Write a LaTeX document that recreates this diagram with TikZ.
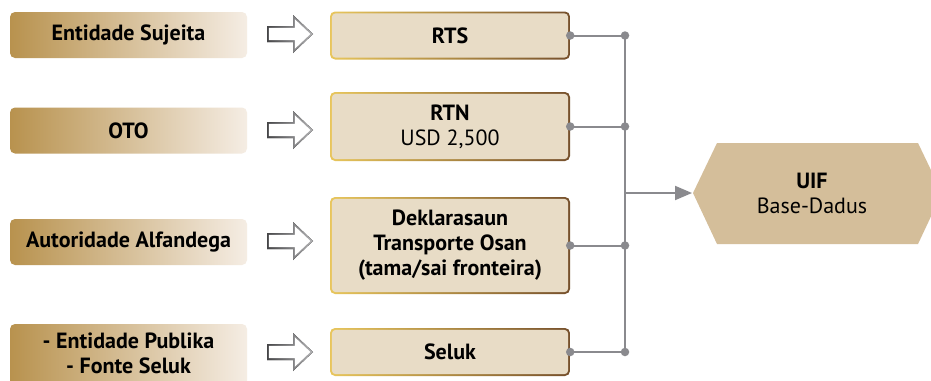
\documentclass[tikz,border=0pt]{standalone}
\usepackage{fontspec}
\setmainfont{PT Sans}
\usetikzlibrary{arrows.meta}
\definecolor{lgold}{RGB}{184,146,78}
\definecolor{lcream}{RGB}{245,237,228}
\definecolor{midfill}{RGB}{232,220,198}
\definecolor{bgold}{RGB}{232,198,92}
\definecolor{bbrown}{RGB}{118,80,44}
\definecolor{hexfill}{RGB}{212,190,154}
\definecolor{conn}{RGB}{138,138,142}
\definecolor{arrdark}{RGB}{70,70,72}
\definecolor{arrlight}{RGB}{178,178,180}
\begin{document}
\begin{tikzpicture}[x=1pt,y=-1pt,
  txt/.style={font=\fontsize{22}{25}\selectfont\bfseries, align=center, text=black},
  srcbox/.style={txt, rounded corners=5pt, minimum width=237pt, inner sep=0pt,
    left color=lgold, right color=lcream},
  outbox/.style={txt, rounded corners=5pt, minimum width=240pt, inner sep=0pt,
    left color=bgold, right color=bbrown,
    path picture={\fill[midfill,rounded corners=4pt]
      ([shift={(1.8pt,-1.8pt)}]path picture bounding box.north west) rectangle
      ([shift={(-1.8pt,1.8pt)}]path picture bounding box.south east);}},
  hollowarr/.pic={
    \fill[left color=arrdark, right color=arrlight]
      (0,-8) -- (26,-8) -- (26,-19) -- (46,0) -- (26,19) -- (26,8) -- (0,8) -- cycle;
    \fill[white]
      (1.8,-6.2) -- (27.8,-6.2) -- (27.8,-14.8) -- (43.4,0) -- (27.8,14.8) -- (27.8,6.2) -- (1.8,6.2) -- cycle;
  },
  connline/.style={draw=conn, line width=2pt},
  dot/.style={circle, fill=conn, inner sep=0pt, minimum size=8.5pt}
]
\clip (0,0) rectangle (931,380);
\fill[white] (0,0) rectangle (931,380);

% source boxes
\node[srcbox, minimum height=46pt] (s1) at (128.5,35) {Entidade Sujeita};
\node[srcbox, minimum height=46pt] (s2) at (128.5,130.5) {OTO};
\node[srcbox, minimum height=46pt] (s3) at (128.5,242) {Autoridade Alfandega};
\node[srcbox, minimum height=64pt] (s4) at (128.5,356) {};
\node[txt] (s4t) at (128.5,353.5) {- Entidade Publika\\- Fonte Seluk};

% hollow arrows
\pic at (267,34) {hollowarr};
\pic at (267,130) {hollowarr};
\pic at (267,241) {hollowarr};
\pic at (267,352) {hollowarr};

% output boxes
\node[outbox, minimum height=48pt] (o1) at (450,35.5) {RTS};
\node[outbox, minimum height=69pt] (o2) at (450,126.5) {RTN\\\mdseries USD 2,500};
\node[outbox, minimum height=97pt] (o3) at (450,245.5) {Deklarasaun\\Transporte Osan\\(tama/sai fronteira)};
\node[outbox, minimum height=48pt] (o4) at (450,352) {Seluk};

% junctions
\coordinate (j1) at (625,35.5);
\coordinate (j2) at (625,126.5);
\coordinate (j3) at (625,245.5);
\coordinate (j4) at (625,352);
\coordinate (jm) at (625,193);
\coordinate (hexl) at (692,193);

\draw[connline] (j1) -- (j4);
\foreach \i in {1,2,3,4} {
  \draw[connline] (o\i.east) -- (j\i);
  \node[dot] at (o\i.east) {};
  \node[dot] at (j\i) {};
}
\draw[connline, -{Triangle[length=17pt,width=14pt]}] (jm) -- (hexl);

% UIF hexagon
\fill[hexfill] (693,193) -- (717,143) -- (918,143) -- (942,193) -- (918,244) -- (717,244) -- cycle;
\node[txt] (uif) at (812,193) {UIF\\\mdseries Base-Dadus};
\end{tikzpicture}
\end{document}
